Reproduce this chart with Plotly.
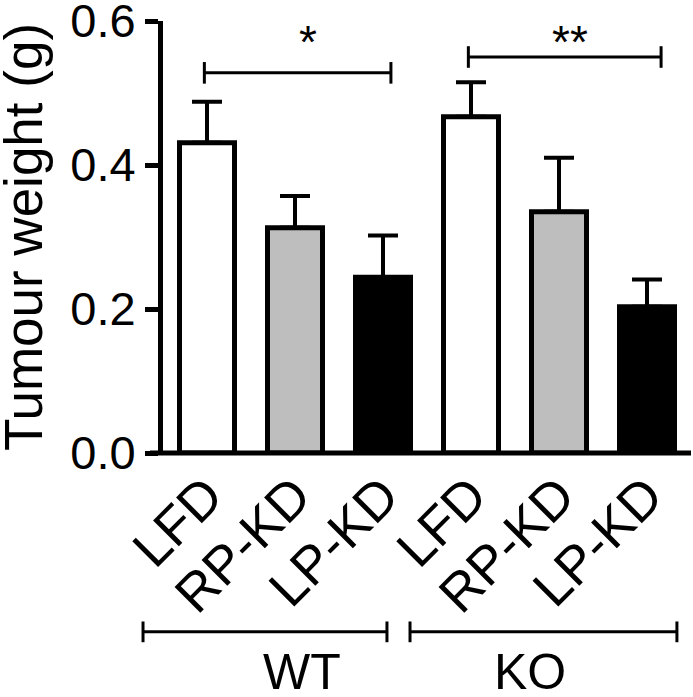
import plotly.graph_objects as go

# ---- data ----
genotypes = ["WT", "KO"]
diets = ["LFD", "RP-KD", "LP-KD"]
tick_labels = diets * 2
weight_mean = [0.431, 0.313, 0.244, 0.467, 0.335, 0.203]
weight_sem = [0.057, 0.044, 0.058, 0.048, 0.075, 0.038]
diet_colors = ["#FFFFFF", "#BEBEBE", "#000000"]
y_ticks = [0.0, 0.2, 0.4, 0.6]
# significance: (left bar index, right bar index, bracket height, label)
sig_left = [0, 3]
sig_right = [2, 5]
sig_height = [0.528, 0.550]
sig_text = ["*", "**"]

FONT = "Liberation Sans, Arial, sans-serif"
x_pos = list(range(len(weight_mean)))
XMIN, XMAX = -0.5, 5.5


def xp(v):
    """data x -> paper x"""
    return (v - XMIN) / (XMAX - XMIN)


fig = go.Figure()
fig.add_trace(go.Bar(
    x=x_pos,
    y=weight_mean,
    width=0.625,
    marker=dict(color=diet_colors * 2, line=dict(color="black", width=5)),
    error_y=dict(type="data", symmetric=False, array=weight_sem,
                 arrayminus=[0] * len(weight_sem),
                 color="black", thickness=4, width=15),
    showlegend=False,
    hoverinfo="skip",
))

shapes = []
annotations = []

# x baseline extending slightly left of the y axis
shapes.append(dict(type="line", xref="paper", yref="paper",
                   x0=-13 / 528, x1=1, y0=0, y1=0,
                   line=dict(color="black", width=5)))

# significance brackets
for l, r, h, t in zip(sig_left, sig_right, sig_height, sig_text):
    x0 = l - 0.03
    x1 = r + (0.09 if r == 2 else 0.16)
    shapes.append(dict(type="line", xref="x", yref="y", x0=x0, x1=x1, y0=h, y1=h,
                       line=dict(color="black", width=3)))
    for xx in (x0, x1):
        shapes.append(dict(type="line", xref="x", yref="y", x0=xx, x1=xx,
                           y0=h - 0.015, y1=h + 0.015,
                           line=dict(color="black", width=3)))
    annotations.append(dict(xref="x", yref="y",
                            x=(x0 + x1) / 2 + (0.12 if len(t) == 1 else 0.06),
                            y=0.571, text=t, showarrow=False,
                            xanchor="center", yanchor="middle",
                            font=dict(size=46, color="black", family=FONT)))

# genotype group lines and labels
grp_x0 = [-0.727, 2.307]
grp_x1 = [2.045, 5.34]
grp_label_x = [1.08, 3.67]
gy = -0.414
for g, a, b, c in zip(genotypes, grp_x0, grp_x1, grp_label_x):
    shapes.append(dict(type="line", xref="paper", yref="paper",
                       x0=xp(a), x1=xp(b), y0=gy, y1=gy,
                       line=dict(color="black", width=3)))
    for xx in (a, b):
        shapes.append(dict(type="line", xref="paper", yref="paper",
                           x0=xp(xx), x1=xp(xx), y0=gy - 0.024, y1=gy + 0.024,
                           line=dict(color="black", width=3)))
    annotations.append(dict(xref="paper", yref="paper", x=xp(c), y=(453 - 702) / 432,
                            text=g, showarrow=False, xanchor="center", yanchor="bottom",
                            font=dict(size=50, color="black", family=FONT)))

# y-axis title
annotations.append(dict(xref="paper", yref="paper", x=(23 - 163) / 528, y=0.5,
                        text="Tumour weight (g)", textangle=-90, showarrow=False,
                        xanchor="center", yanchor="middle",
                        font=dict(size=53, color="black", family=FONT)))

fig.update_layout(
    width=693, height=697,
    margin=dict(l=163, r=2, t=21, b=244, autoexpand=False),
    paper_bgcolor="white", plot_bgcolor="white",
    font=dict(family=FONT, color="black"),
    shapes=shapes, annotations=annotations,
    bargap=0,
    xaxis=dict(range=[XMIN, XMAX], tickvals=x_pos, ticktext=tick_labels,
               tickangle=-45, tickfont=dict(size=53, family=FONT, color="black"),
               showline=False, showgrid=False, zeroline=False, ticks="",
               automargin=False, ticklabeloverflow="allow"),
    yaxis=dict(range=[0, 0.6], tickvals=y_ticks,
               ticktext=[f"{v:.1f}" for v in y_ticks],
               tickfont=dict(size=47, family=FONT, color="black"),
               showline=True, linecolor="black", linewidth=5,
               ticks="outside", ticklen=13, tickwidth=5, tickcolor="black",
               showgrid=False, zeroline=False, automargin=False,
               ticklabeloverflow="allow"),
)

fig.write_html(
    "out.html",
    config={"displayModeBar": False, "staticPlot": True},
    post_script="document.body.style.margin='0';document.body.style.overflow='hidden';",
)
